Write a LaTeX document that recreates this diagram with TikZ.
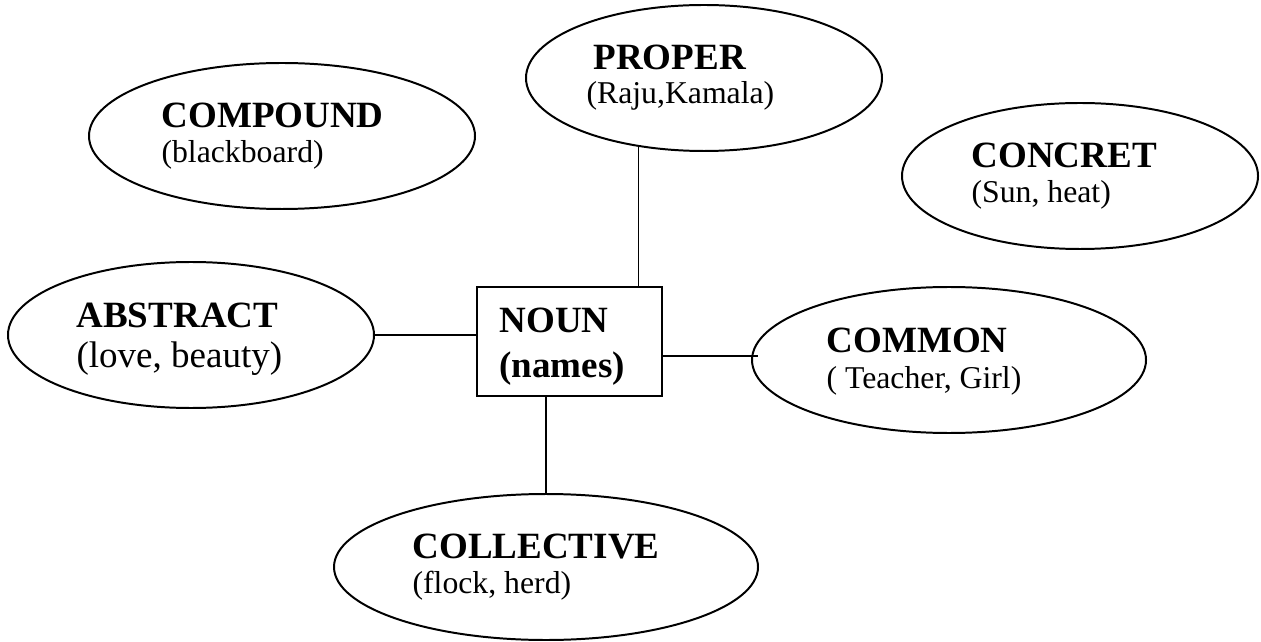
\documentclass[tikz,border=0pt]{standalone}
\usepackage{fontspec}
\setmainfont{Liberation Serif}
\usetikzlibrary{shapes.geometric,calc}

% one drawing unit = 0.378pt
\tikzset{
  oval/.style 2 args={ellipse, draw, line width=0.75pt, inner sep=0pt, outer sep=0pt,
    minimum width={#1*0.378pt}, minimum height={#2*0.378pt}},
  hub/.style={rectangle, draw, line width=0.8pt, inner sep=0pt, outer sep=0pt,
    minimum width={185*0.378pt}, minimum height={109*0.378pt}},
  title/.style={anchor=base west, inner sep=0pt, font=\fontsize{14}{16}\selectfont\bfseries},
  sub/.style={anchor=base west, inner sep=0pt, font=\fontsize{12}{14}\selectfont},
  subbig/.style={anchor=base west, inner sep=0pt, font=\fontsize{14}{16}\selectfont},
  link/.style={line width=0.7pt}
}

\begin{document}
\begin{tikzpicture}[x=0.378pt, y=-0.378pt]
  \useasboundingbox (0,0) rectangle (1261,642);

  % central box
  \node[hub] (noun) at (569.5,341.5) {};
  \node[title] (nountxt) at (499,333) {NOUN};
  \node[title] (namestxt) at (499,377) {(names)};

  % surrounding categories
  \node[oval={356}{146}] (proper) at (704,78) {};
  \node[title] (propertxt) at (593,70) {PROPER};
  \node[sub] (properex) at (586,104) {(Raju,Kamala)};

  \node[oval={386}{146}] (compound) at (282,136) {};
  \node[title] (compoundtxt) at (161,128) {COMPOUND};
  \node[sub] (compoundex) at (161,163) {(blackboard)};

  \node[oval={356}{146}] (concret) at (1080,176) {};
  \node[title] (concrettxt) at (971,168) {CONCRET};
  \node[sub] (concretex) at (971,203) {(Sun, heat)};

  \node[oval={366}{146}] (abstract) at (191,335) {};
  \node[title] (abstracttxt) at (76,327) {ABSTRACT};
  \node[subbig] (abstractex) at (76,368) {(love, beauty)};

  \node[oval={394}{146}] (common) at (949,360) {};
  \node[title] (commontxt) at (826,352) {COMMON};
  \node[sub] (commonex) at (826,388) {( Teacher, Girl)};

  \node[oval={424}{146}] (collective) at (546,567) {};
  \node[title] (collectivetxt) at (412,558) {COLLECTIVE};
  \node[sub] (collectiveex) at (412,593) {(flock, herd)};

  % connectors
  \draw[link] (proper.226) -- (proper.226 |- noun.north);
  \draw[link] (abstract.east) -- (abstract.east -| noun.west);
  \coordinate (commonend) at ($(common.west)+(6,-4)$);
  \draw[link] (commonend -| noun.east) -- (commonend);
  \draw[link] (collective.north |- noun.south) -- (collective.north);
\end{tikzpicture}
\end{document}
